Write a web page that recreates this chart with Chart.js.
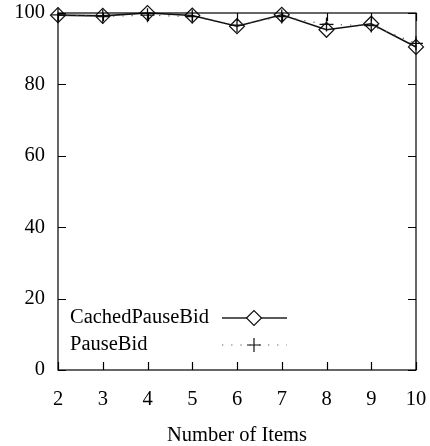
<!DOCTYPE html>
<html>
<head>
<meta charset="utf-8">
<script src="https://cdn.jsdelivr.net/npm/chart.js@4.4.0/dist/chart.umd.min.js"></script>
<style>
  html, body { margin: 0; padding: 0; background: #fff; }
  #wrap { width: 430px; height: 446px; }
</style>
</head>
<body>
<div id="wrap"><canvas id="myChart" width="430" height="446"></canvas></div>
<script>
"use strict";

const items = [2, 3, 4, 5, 6, 7, 8, 9, 10];
const cachedPauseBid = [99.4, 99.2, 100, 99.3, 96.3, 99.5, 95.3, 97.0, 90.5];
const pauseBid = [99.5, 99.0, 99.4, 99.0, 96.6, 99.0, 96.8, 96.5, 91.5];
const yTicks = [0, 20, 40, 60, 80, 100];

const FONT = "'Liberation Serif', 'DejaVu Serif', serif";
const FSIZE = 20.5;

// inner ticks on all four sides plus legend drawn inside the plot
const frame = {
    id: "frame",
    afterDraw(chart) {
        const ctx = chart.ctx;
        const a = chart.chartArea;
        const xs = chart.scales.x;
        const ys = chart.scales.y;
        const len = 8;
        ctx.save();
        ctx.strokeStyle = "#000";
        ctx.lineWidth = 1.2;
        ctx.strokeRect(a.left, a.top, a.right - a.left, a.bottom - a.top);
        ctx.beginPath();
        items.forEach(function(v) {
            const px = Math.round(xs.getPixelForValue(v)) + 0.5;
            ctx.moveTo(px, a.bottom); ctx.lineTo(px, a.bottom - len);
            ctx.moveTo(px, a.top); ctx.lineTo(px, a.top + len);
        });
        yTicks.forEach(function(v) {
            const py = Math.round(ys.getPixelForValue(v)) + 0.5;
            ctx.moveTo(a.left, py); ctx.lineTo(a.left + len, py);
            ctx.moveTo(a.right, py); ctx.lineTo(a.right - len, py);
        });
        ctx.stroke();

        // legend
        ctx.font = FSIZE + "px " + FONT;
        ctx.textBaseline = "middle";
        ctx.textAlign = "left";
        const rows = [
            { label: "CachedPauseBid", y: 318, dash: [], style: "rectRot", w: 1.3, color: "#222" },
            { label: "PauseBid", y: 345, dash: [1.2, 8], style: "cross", w: 1.2, color: "#555" }
        ];
        rows.forEach(function(r) {
            ctx.fillStyle = "#000";
            ctx.fillText(r.label, 70, r.y);
            ctx.save();
            ctx.strokeStyle = r.color;
            ctx.lineWidth = r.w;
            ctx.setLineDash(r.dash);
            ctx.beginPath();
            ctx.moveTo(222, r.y); ctx.lineTo(287, r.y);
            ctx.stroke();
            ctx.restore();
            ctx.save();
            ctx.fillStyle = "#fff";
            ctx.strokeStyle = "#111";
            Chart.helpers.drawPoint(ctx, {
                pointStyle: r.style, radius: r.style === "rectRot" ? 7.5 : 7, borderWidth: 1.3
            }, 254, r.y);
            ctx.restore();
        });
        ctx.restore();
    }
};

window.addEventListener("load", function() {
    const ctx = document.getElementById("myChart");
    new Chart(ctx, {
        "type": "line",
        "data": {
            "datasets": [
                {
                    "label": "PauseBid",
                    "data": items.map((x, i) => ({ x: x, y: pauseBid[i] })),
                    "borderColor": "#555",
                    "borderWidth": 1.2,
                    "borderDash": [1.2, 8],
                    "pointStyle": "cross",
                    "pointRadius": 7,
                    "pointBorderColor": "#111",
                    "pointBorderWidth": 1.3,
                    "backgroundColor": "transparent",
                    "clip": false
                },
                {
                    "label": "CachedPauseBid",
                    "data": items.map((x, i) => ({ x: x, y: cachedPauseBid[i] })),
                    "borderColor": "#111",
                    "borderWidth": 1.6,
                    "pointStyle": "rectRot",
                    "pointRadius": 7.5,
                    "pointBorderColor": "#111",
                    "pointBorderWidth": 1.2,
                    "pointBackgroundColor": "transparent",
                    "backgroundColor": "transparent",
                    "clip": false
                }
            ]
        },
        "options": {
            "responsive": false,
            "animation": false,
            "layout": { "padding": { "top": 13, "right": 14, "left": 0, "bottom": 0 } },
            "plugins": { "legend": { "display": false }, "tooltip": { "enabled": false } },
            "scales": {
                "x": {
                    "type": "linear",
                    "min": 2,
                    "max": 10,
                    "afterBuildTicks": function(s) { s.ticks = items.map(v => ({ value: v })); },
                    "afterFit": function(s) { s.height = 76; s.paddingLeft = 0; s.paddingRight = 0; },
                    "grid": { "display": false, "drawTicks": false, "tickLength": 0 },
                    "border": { "display": false },
                    "ticks": { "color": "#000", "font": { "family": FONT, "size": FSIZE }, "padding": 17, "maxRotation": 0 },
                    "title": {
                        "display": true,
                        "text": "Number of Items",
                        "color": "#000",
                        "font": { "family": FONT, "size": FSIZE },
                        "padding": { "top": 0, "bottom": -2 }
                    }
                },
                "y": {
                    "min": 0,
                    "max": 100,
                    "afterBuildTicks": function(s) { s.ticks = yTicks.map(v => ({ value: v })); },
                    "afterFit": function(s) { s.width = 58; s.paddingTop = 0; s.paddingBottom = 0; },
                    "grid": { "display": false, "drawTicks": false, "tickLength": 0 },
                    "border": { "display": false },
                    "ticks": { "color": "#000", "font": { "family": FONT, "size": FSIZE }, "padding": 13 }
                }
            }
        },
        "plugins": [frame]
    });
});
</script>
</body>
</html>
